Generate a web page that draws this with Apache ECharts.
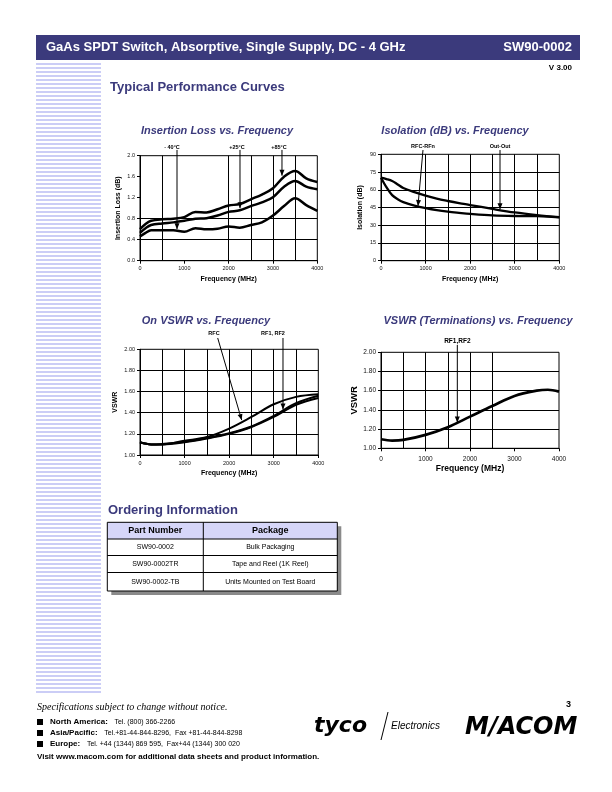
<!DOCTYPE html>
<html><head><meta charset="utf-8">
<script src="https://cdn.jsdelivr.net/npm/echarts@6/dist/echarts.min.js"></script>
<style>html,body{margin:0;padding:0;background:#fff}#c{width:612px;height:792px}</style>
</head><body><div id="c"></div>
<script>
// ---------------- DATA ----------------
const freqTicks = [0, 1000, 2000, 3000, 4000];

// Insertion Loss vs Frequency (dB)
const ilFreq     = [0, 125, 250, 500, 750, 1000, 1250, 1500, 1750, 2000, 2250, 2500, 2750, 3000, 3250, 3500, 3750, 4000];
const ilPlus85   = [0.60, 0.70, 0.76, 0.79, 0.80, 0.83, 0.93, 0.92, 0.98, 1.05, 1.08, 1.17, 1.26, 1.38, 1.60, 1.71, 1.57, 1.50];
const ilPlus25   = [0.53, 0.62, 0.68, 0.71, 0.73, 0.76, 0.80, 0.81, 0.86, 0.93, 0.96, 1.04, 1.11, 1.21, 1.41, 1.52, 1.41, 1.36];
const ilMinus40  = [0.46, 0.53, 0.58, 0.58, 0.58, 0.55, 0.62, 0.60, 0.61, 0.65, 0.63, 0.68, 0.73, 0.86, 1.04, 1.19, 1.06, 0.95];
const ilYTicks   = [0.0, 0.4, 0.8, 1.2, 1.6, 2.0];
const ilGridX    = [500, 2000, 2500, 3000, 3500];
const ilGridY    = [0.4, 0.8];

// Isolation vs Frequency (dB)
const isoFreq    = [0, 125, 250, 375, 500, 750, 1000, 1250, 1500, 1750, 2000, 2500, 3000, 3500, 4000];
const isoOutOut  = [70.2, 69.0, 67.4, 64.5, 61.5, 58.0, 55.0, 52.5, 50.5, 48.7, 47.1, 43.8, 40.8, 38.6, 36.9];
const isoRfcRfn  = [70.2, 62.0, 55.5, 52.0, 49.5, 46.5, 44.5, 42.8, 41.5, 40.5, 39.6, 38.3, 37.8, 37.7, 36.7];
const isoYTicks  = [0, 15, 30, 45, 60, 75, 90];
const isoGridX   = [1000, 1500, 2000, 2500, 3000, 3500];
const isoGridY   = [15, 30, 45, 60, 75];

// On VSWR vs Frequency
const onFreq     = [0, 250, 500, 1000, 1500, 2000, 2500, 3000, 3500, 4000];
const onRfc      = [1.12, 1.10, 1.10, 1.135, 1.17, 1.25, 1.36, 1.48, 1.55, 1.575];
const onRf1      = [1.12, 1.10, 1.105, 1.125, 1.16, 1.205, 1.27, 1.37, 1.49, 1.56];
const onRf2      = [1.12, 1.10, 1.10, 1.12, 1.155, 1.20, 1.265, 1.36, 1.475, 1.54];
const vswrYTicks = [1.00, 1.20, 1.40, 1.60, 1.80, 2.00];
const onGridX    = [500, 1000, 1500, 2000, 2500, 3000, 3500];
const onGridY    = [1.2, 1.4, 1.6, 1.8];

// VSWR (Terminations) vs Frequency
const termFreq   = [0, 250, 500, 1000, 1500, 2000, 2500, 3000, 3500, 3750, 4000];
const termRf     = [1.094, 1.08, 1.087, 1.14, 1.22, 1.33, 1.44, 1.545, 1.60, 1.61, 1.59];
const termGridX  = [500, 1000, 1500, 2000, 2500];
const termGridY  = [1.2, 1.4, 1.6, 1.8];

// Curve annotations (data units): label anchor, arrow start, arrow tip
const ilNotes   = [
  { text: '- 40°C', at: [722, 2.166],  from: [835, 2.11],  to: [835, 0.60] },
  { text: '+25°C',  at: [2188, 2.166], from: [2256, 2.11], to: [2256, 1.00] },
  { text: '+85°C',  at: [3136, 2.166], from: [3203, 2.11], to: [3203, 1.62] }
];
const isoNotes  = [
  { text: 'RFC-RFn', at: [942, 97],   from: [942, 93.6],  to: [830, 46.3] },
  { text: 'Out-Out', at: [2670, 97],  from: [2670, 93.6], to: [2670, 43.5] }
];
const onNotes   = [
  { text: 'RFC',      at: [1660, 2.145], from: [1743, 2.107], to: [2281, 1.33] },
  { text: 'RF1, RF2', at: [2984, 2.145], from: [3208, 2.107], to: [3208, 1.43] }
];
const termNotes = [
  { text: 'RF1,RF2', at: [1715, 2.118], from: [1715, 2.076], to: [1715, 1.27] }
];

// Ordering table
const orderHeader = ['Part Number', 'Package'];
const orderParts  = ['SW90-0002', 'SW90-0002TR', 'SW90-0002-TB'];
const orderPkgs   = ['Bulk Packaging', 'Tape and Reel (1K Reel)', 'Units Mounted on Test Board'];

// ---------------- CHART ----------------
const FF = '"Liberation Sans", Arial, Helvetica, sans-serif';
const NAVY = '#3b3a7c';
const chart = echarts.init(document.getElementById('c'), null, { renderer: 'canvas' });

const grids = [
  { left: 140, top: 155.7, width: 177.3, height: 105,   show: true, borderColor: '#000', borderWidth: 1, outerBoundsMode: 'none', containLabel: false },
  { left: 381, top: 154.3, width: 178.3, height: 106.4, show: true, borderColor: '#000', borderWidth: 1, outerBoundsMode: 'none', containLabel: false },
  { left: 140, top: 349.3, width: 178.3, height: 105.7, show: true, borderColor: '#000', borderWidth: 1, outerBoundsMode: 'none', containLabel: false },
  { left: 381, top: 352.3, width: 178,   height: 96,    show: true, borderColor: '#000', borderWidth: 1, outerBoundsMode: 'none', containLabel: false }
];

function xAx(gi, fs, nameFs, gap, family) {
  return {
    gridIndex: gi, type: 'value', min: freqTicks[0], max: freqTicks[freqTicks.length - 1],
    interval: freqTicks[1] - freqTicks[0],
    axisLine: { show: true, lineStyle: { color: '#000', width: 1 } },
    axisTick: { show: true, length: 3, lineStyle: { color: '#000' } },
    splitLine: { show: false },
    axisLabel: { fontSize: fs, color: '#111', margin: gi === 3 ? 7 : 5, fontFamily: FF,
                 formatter: v => String(v) },
    name: 'Frequency (MHz)', nameLocation: 'middle', nameGap: gap,
    nameTextStyle: { fontWeight: 'bold', fontSize: nameFs, color: '#000', fontFamily: family || FF }
  };
}
function yAx(gi, ticks, digits, name, fs, nameFs, gap) {
  return {
    gridIndex: gi, type: 'value', min: ticks[0], max: ticks[ticks.length - 1],
    interval: +(ticks[1] - ticks[0]).toFixed(4),
    axisLine: { show: true, lineStyle: { color: '#000', width: 1 } },
    axisTick: { show: true, length: 3, lineStyle: { color: '#000' } },
    splitLine: { show: false },
    axisLabel: { fontSize: fs, color: '#111', margin: 5, fontFamily: FF,
                 formatter: v => v.toFixed(digits) },
    name: name, nameLocation: 'middle', nameGap: gap, nameRotate: 90,
    nameTextStyle: { fontWeight: 'bold', fontSize: nameFs, color: '#000', fontFamily: FF }
  };
}

function curve(gi, xs, ys, width, gx, gy) {
  const s = {
    type: 'line', xAxisIndex: gi, yAxisIndex: gi,
    data: xs.map((x, i) => [x, ys[i]]),
    smooth: 0.35, showSymbol: false, symbol: 'none', silent: true,
    lineStyle: { color: '#000', width: width }, z: 3
  };
  if (gx) {
    s.markLine = {
      silent: true, symbol: ['none', 'none'], label: { show: false },
      lineStyle: { color: '#000', width: 1, type: 'solid' },
      emphasis: { disabled: true },
      data: gx.map(v => ({ xAxis: v })).concat(gy.map(v => ({ yAxis: v })))
    };
  }
  return s;
}

const option = {
  animation: false,
  backgroundColor: '#fff',
  grid: grids,
  xAxis: [
    xAx(0, 5.5, 7, 15),
    xAx(1, 5.5, 7, 15),
    xAx(2, 5.5, 7, 15),
    xAx(3, 6.5, 8.5, 16, '"Liberation Sans Narrow", "Liberation Sans", Arial, sans-serif')
  ],
  yAxis: [
    yAx(0, ilYTicks, 1, 'Insertion Loss (dB)', 5.5, 7, 18),
    yAx(1, isoYTicks, 0, 'Isolation (dB)', 5.5, 7, 17),
    yAx(2, vswrYTicks, 2, 'VSWR', 5.5, 7, 21),
    yAx(3, vswrYTicks, 2, 'VSWR', 6.5, 9.5, 22)
  ],
  series: [
    curve(0, ilFreq, ilPlus85, 2.5, ilGridX, ilGridY),
    curve(0, ilFreq, ilPlus25, 2.5),
    curve(0, ilFreq, ilMinus40, 2.5),
    curve(1, isoFreq, isoOutOut, 2.3, isoGridX, isoGridY),
    curve(1, isoFreq, isoRfcRfn, 2.3),
    curve(2, onFreq, onRfc, 2, onGridX, onGridY),
    curve(2, onFreq, onRf1, 2),
    curve(2, onFreq, onRf2, 2),
    curve(3, termFreq, termRf, 2.7, termGridX, termGridY)
  ]
};
chart.setOption(option);

// ---------------- GRAPHICS ----------------
const g = [];
function txt(x, y, text, font, fill, align, valign, extra) {
  g.push(Object.assign({ type: 'text', x: x, y: y, silent: true, z: 10,
    style: { text: text, font: font, fill: fill || '#000', align: align || 'left', verticalAlign: valign || 'middle' } }, extra || {}));
}
function rect(x, y, w, h, fill, stroke, lw) {
  g.push({ type: 'rect', silent: true, z: 5, shape: { x: x, y: y, width: w, height: h },
    style: { fill: fill || 'none', stroke: stroke || null, lineWidth: lw || 0 } });
}
function line(x1, y1, x2, y2, lw, color) {
  g.push({ type: 'line', silent: true, z: 9, shape: { x1: x1, y1: y1, x2: x2, y2: y2 },
    style: { stroke: color || '#000', lineWidth: lw || 1 } });
}

// header band
rect(36, 35, 544, 25, NAVY);
txt(46, 47.5, 'GaAs SPDT Switch, Absorptive, Single Supply, DC - 4 GHz', 'bold 13px ' + FF, '#fff');
txt(572, 47.5, 'SW90-0002', 'bold 13px ' + FF, '#fff', 'right');
// left stripes
for (let y = 63; y <= 694; y += 4) rect(36, y, 65, 2, '#cbcdf6');
txt(572, 68, 'V 3.00', 'bold 8px ' + FF, '#000', 'right');
txt(110, 87, 'Typical Performance Curves', 'bold 13px ' + FF, NAVY);

// chart titles
const TF = 'italic bold 11px ' + FF;
txt(217, 131, 'Insertion Loss vs. Frequency', TF, NAVY, 'center');
txt(455, 131, 'Isolation (dB) vs. Frequency', TF, NAVY, 'center');
txt(206, 321, 'On VSWR vs. Frequency', TF, NAVY, 'center');
txt(478, 321, 'VSWR (Terminations) vs. Frequency', TF, NAVY, 'center');

// annotations (positions via the chart's scales)
function notes(gi, list, fs) {
  list.forEach(n => {
    const a = chart.convertToPixel({ gridIndex: gi }, n.at);
    const s = chart.convertToPixel({ gridIndex: gi }, n.from);
    const t = chart.convertToPixel({ gridIndex: gi }, n.to);
    txt(a[0], a[1], n.text, 'bold ' + fs + 'px ' + FF, '#000', 'center');
    line(s[0], s[1], t[0], t[1], 1);
    const dx = t[0] - s[0], dy = t[1] - s[1], L = Math.hypot(dx, dy);
    const ux = dx / L, uy = dy / L, bx = t[0] - ux * 6, by = t[1] - uy * 6;
    g.push({ type: 'polygon', silent: true, z: 9,
      shape: { points: [[t[0], t[1]], [bx - uy * 2.5, by + ux * 2.5], [bx + uy * 2.5, by - ux * 2.5]] },
      style: { fill: '#000' } });
  });
}
notes(0, ilNotes, 5.5);
notes(1, isoNotes, 5.5);
notes(2, onNotes, 5.5);
notes(3, termNotes, 6.5);

// ordering information
txt(108, 510, 'Ordering Information', 'bold 13px ' + FF, NAVY);
const tx = 107.3, ty = 522.3, tw = 230, th = 68.7, cx = 203.3;
rect(tx + 4, ty + 4, tw, th, '#8a8a8a');
rect(tx, ty, tw, th, '#fff');
rect(tx, ty, tw, 16.7, '#d6d6f8');
rect(tx, ty, tw, th, null, '#000', 1);
line(tx, 539, tx + tw, 539, 1);
line(tx, 555.5, tx + tw, 555.5, 1);
line(tx, 572.5, tx + tw, 572.5, 1);
line(cx, ty, cx, ty + th, 1);
txt((tx + cx) / 2, 530.7, orderHeader[0], 'bold 9px ' + FF, '#000', 'center');
txt((cx + tx + tw) / 2, 530.7, orderHeader[1], 'bold 9px ' + FF, '#000', 'center');
const rowY = [547.3, 564, 581.7];
orderParts.forEach((p, i) => {
  txt((tx + cx) / 2, rowY[i], p, '7px ' + FF, '#000', 'center');
  txt((cx + tx + tw) / 2, rowY[i], orderPkgs[i], '7px ' + FF, '#000', 'center');
});

// footer
txt(37, 707, 'Specifications subject to change without notice.', 'italic 10px "Liberation Serif", "Times New Roman", serif', '#000');
const foot = [
  ['North America:', 'Tel. (800) 366-2266'],
  ['Asia/Pacific:', 'Tel.+81-44-844-8296,  Fax +81-44-844-8298'],
  ['Europe:', 'Tel. +44 (1344) 869 595,  Fax+44 (1344) 300 020']
];
foot.forEach((f, i) => {
  const y = 722 + i * 11;
  rect(37, y - 3, 6, 6, '#000');
  g.push({ type: 'text', x: 50, y: y, silent: true, z: 10,
    style: { text: '{b|' + f[0] + '}  {n|' + f[1] + '}', verticalAlign: 'middle', align: 'left',
      rich: { b: { font: 'bold 8px ' + FF, fill: '#000' }, n: { font: '7px ' + FF, fill: '#000' } } } });
});
txt(37, 757, 'Visit www.macom.com for additional data sheets and product information.', 'bold 8px ' + FF, '#000');
txt(571, 705, '3', 'bold 9px ' + FF, '#000', 'right');
// logos (as text)
txt(314, 726, 'tyco', 'italic bold 22px "DejaVu Sans", ' + FF, '#000');
line(381, 740, 388, 712, 1);
txt(391, 726, 'Electronics', 'italic 10px ' + FF, '#000');
txt(465, 728, 'M/ACOM', 'italic bold 24px "DejaVu Sans", ' + FF, '#000');

chart.setOption({ graphic: g });
</script>
</body></html>
